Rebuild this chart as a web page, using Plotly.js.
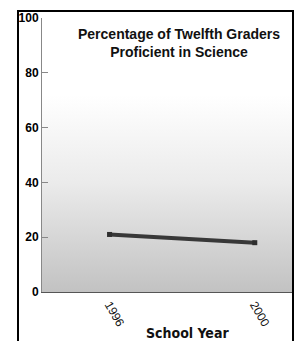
<!DOCTYPE html>
<html>
<head>
<meta charset="utf-8">
<script src="https://cdn.plot.ly/plotly-3.0.1.min.js"></script>
<style>
  html, body { margin: 0; padding: 0; background: #ffffff; }
  #wrap { position: relative; width: 295px; height: 341px; overflow: hidden; }
  #chart { position: absolute; left: 0; top: 0; width: 295px; height: 341px; }
  #frame { position: absolute; left: 17px; top: 10px; width: 273px; height: 340px;
           border-left: 2px solid #000; border-top: 2px solid #000; border-right: 2px solid #000;
           pointer-events: none; }
</style>
</head>
<body>
<div id="wrap">
  <div id="chart"></div>
  <div id="frame"></div>
</div>
<script>
// Data
const years = [1996, 2000];
const proficient = [21, 18];
const yTickVals = [0, 20, 40, 60, 80, 100];
const yTickText = ['0', '20', '40', '60', '80', '100'];
const xTickVals = [1996, 2000];
const xTickText = ['1996', '2000'];

const gradSvg = '<svg xmlns="http://www.w3.org/2000/svg" width="100" height="100" preserveAspectRatio="none">' +
  '<defs><linearGradient id="g" x1="0" y1="0" x2="0" y2="1">' +
  '<stop offset="0" stop-color="#ffffff"/>' +
  '<stop offset="0.28" stop-color="#ffffff"/>' +
  '<stop offset="0.6" stop-color="#ebebeb"/>' +
  '<stop offset="1" stop-color="#c2c2c2"/>' +
  '</linearGradient></defs><rect width="100" height="100" fill="url(#g)"/></svg>';
const gradUri = 'data:image/svg+xml;base64,' + btoa(gradSvg);

const trace = {
  x: years,
  y: proficient,
  type: 'scatter',
  mode: 'lines+markers',
  line: { color: '#383838', width: 4 },
  marker: { symbol: 'square', size: 5, color: '#2e2e2e' },
  hoverinfo: 'skip'
};

const layout = {
  width: 295,
  height: 341,
  margin: { l: 42, r: 1, t: 18, b: 49, pad: 0 },
  paper_bgcolor: 'rgba(0,0,0,0)',
  plot_bgcolor: 'rgba(0,0,0,0)',
  showlegend: false,
  xaxis: {
    range: [1994.14, 2001.08],
    tickvals: xTickVals,
    ticktext: xTickText,
    tickangle: 60,
    ticks: '',
    showgrid: false,
    zeroline: false,
    showline: true,
    linecolor: '#555555',
    linewidth: 1,
    tickfont: { family: 'Liberation Sans, Arial, sans-serif', size: 12, color: '#111111' },
    fixedrange: true
  },
  yaxis: {
    range: [0, 100],
    tickvals: yTickVals,
    ticktext: yTickText.map(t => '<b>' + t + '</b>'),
    ticks: 'inside',
    ticklen: 6,
    tickcolor: '#888888',
    showgrid: false,
    zeroline: false,
    showline: true,
    linecolor: '#888888',
    linewidth: 1,
    tickfont: { family: 'Liberation Sans, Arial, sans-serif', size: 12, color: '#000000' },
    fixedrange: true
  },
  images: [{
    source: gradUri,
    xref: 'paper', yref: 'paper',
    x: 0, y: 1, sizex: 1, sizey: 1,
    xanchor: 'left', yanchor: 'top',
    sizing: 'stretch', layer: 'below'
  }],
  annotations: [{
    text: '<b>Percentage of Twelfth Graders<br>Proficient in Science</b>',
    xref: 'paper', yref: 'paper',
    x: (179 - 42) / 252, y: (292 - 43) / 274,
    xanchor: 'center', yanchor: 'middle',
    showarrow: false,
    font: { family: 'Liberation Sans, Arial, sans-serif', size: 14, color: '#111111' }
  }, {
    text: '<b>School Year</b>',
    xref: 'paper', yref: 'paper',
    x: (187 - 42) / 252, y: (292 - 333) / 274,
    xanchor: 'center', yanchor: 'middle',
    showarrow: false,
    font: { family: 'Liberation Sans Narrow, DejaVu Sans Condensed, Arial, sans-serif', size: 14, color: '#111111' }
  }]
};

Plotly.newPlot('chart', [trace], layout, { displayModeBar: false, staticPlot: true });
</script>
</body>
</html>
